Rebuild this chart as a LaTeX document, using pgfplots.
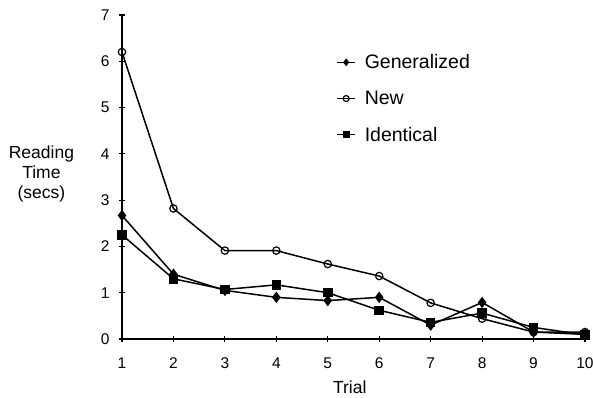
\documentclass[border=0pt]{standalone}
\usepackage{fontspec}
\setmainfont{Liberation Sans}
\usepackage{pgfplots}
\pgfplotsset{compat=1.18}
\begin{document}
\begin{tikzpicture}
\path[use as bounding box] (-122pt,-58pt) rectangle (471pt,339pt);
\begin{axis}[
  at={(0pt,0pt)}, anchor=south west,
  scale only axis, width=463pt, height=324pt,
  xmin=1, xmax=10, ymin=0, ymax=7,
  axis x line*=bottom, axis y line*=left,
  axis line style={line width=1.6pt,-},
  xtick={1,...,10}, ytick={0,...,7},
  tick align=center, major tick length=6pt,
  tick style={line width=1.2pt,black},
  /pgf/number format/assume math mode=true,
  tick label style={font=\fontsize{15.5}{17}\selectfont},
  xticklabel style={yshift=-12pt},
  yticklabel style={xshift=-6pt},
  clip=false,
  xlabel={Trial},
  xlabel style={font=\fontsize{17.5}{20}\selectfont, at={(axis description cs:0.492,-0.148)}, anchor=center},
  ylabel={Reading\\Time\\(secs)},
  ylabel style={font=\fontsize{17.5}{20}\selectfont, rotate=-90, align=center, at={(axis description cs:-0.174,0.51)}, anchor=center},
  legend style={at={(axis description cs:0.463,0.885)}, anchor=north west, draw=none, fill=none,
    font=\fontsize{19.5}{21}\selectfont, row sep=17pt, inner sep=0pt,
    column sep=7pt, nodes={inner sep=2pt}},
  legend cell align=left,
  legend image code/.code={\draw[#1, line width=1.2pt, mark repeat=2, mark phase=2, mark size=3pt] plot coordinates {(0pt,0pt)(9pt,0pt)(18pt,0pt)};},
]
\addplot[black, line width=1.5pt, mark=diamond*, mark size=4.5pt, mark options={solid, fill=black}]
  coordinates {(1,2.67)(2,1.40)(3,1.05)(4,0.90)(5,0.83)(6,0.90)(7,0.30)(8,0.79)(9,0.15)(10,0.10)};
\addlegendentry{Generalized}
\addplot[black, line width=1.5pt, mark=o, mark size=3.7pt, mark options={solid, fill=white, line width=1.2pt}]
  coordinates {(1,6.20)(2,2.82)(3,1.91)(4,1.91)(5,1.62)(6,1.36)(7,0.78)(8,0.44)(9,0.15)(10,0.15)};
\addlegendentry{New}
\addplot[black, line width=1.5pt, mark=square*, mark size=4pt, mark options={solid, fill=black}]
  coordinates {(1,2.25)(2,1.30)(3,1.07)(4,1.17)(5,1.00)(6,0.62)(7,0.36)(8,0.56)(9,0.25)(10,0.09)};
\addlegendentry{Identical}
\end{axis}
\end{tikzpicture}
\end{document}
